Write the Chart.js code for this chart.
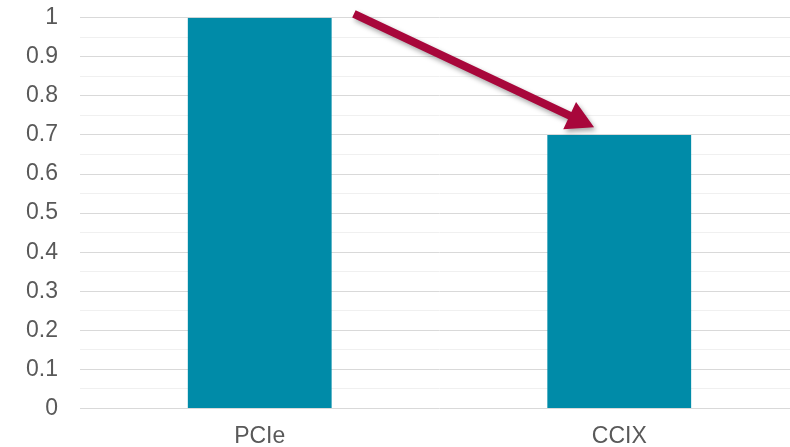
<!DOCTYPE html>
<html>
<head>
<meta charset="utf-8">
<script src="https://cdn.jsdelivr.net/npm/chart.js@4.4.1/dist/chart.umd.min.js"></script>
<style>
  html, body { margin: 0; padding: 0; background: #ffffff; overflow: hidden; }
  #wrap { width: 800px; height: 465px; position: absolute; left: 0; top: -18px; }
</style>
</head>
<body>
<div id="wrap"><canvas id="c"></canvas></div>
<script>
// Relative throughput by interconnect
const categories = ['PCIe', 'CCIX'];
const values = [1, 0.7];
// Labels for the major (0.1) ticks; minor lines sit half-way between them
const yTickLabels = ['0', '0.1', '0.2', '0.3', '0.4', '0.5', '0.6', '0.7', '0.8', '0.9', '1'];
// Trend arrow, in data units: [category position, value]
const arrowFrom = [0.262, 1.01];
const arrowTo = [0.93, 0.72];

const textColor = '#595959';
const barColor = '#008BA8';
const arrowColor = '#A8073B';

const arrowPlugin = {
  id: 'trendArrow',
  afterDatasetsDraw(chart) {
    const { ctx, scales: { x, y } } = chart;
    const x0 = x.getPixelForValue(arrowFrom[0]);
    const y0 = y.getPixelForValue(arrowFrom[1]);
    const x1 = x.getPixelForValue(arrowTo[0]);
    const y1 = y.getPixelForValue(arrowTo[1]);
    const dx = x1 - x0, dy = y1 - y0;
    const len = Math.hypot(dx, dy);
    const ux = dx / len, uy = dy / len;
    const px = -uy, py = ux;
    const headLen = 27, headHalf = 15, shaft = 4;
    const bx = x1 - ux * headLen, by = y1 - uy * headLen;
    ctx.save();
    ctx.shadowColor = 'rgba(0,0,0,0.35)';
    ctx.shadowBlur = 5;
    ctx.shadowOffsetX = 2;
    ctx.shadowOffsetY = 3;
    ctx.fillStyle = arrowColor;
    ctx.beginPath();
    ctx.moveTo(x0 + px * shaft, y0 + py * shaft);
    ctx.lineTo(bx + px * shaft, by + py * shaft);
    ctx.lineTo(bx + px * headHalf, by + py * headHalf);
    ctx.lineTo(x1, y1);
    ctx.lineTo(bx - px * headHalf, by - py * headHalf);
    ctx.lineTo(bx - px * shaft, by - py * shaft);
    ctx.lineTo(x0 - px * shaft, y0 - py * shaft);
    ctx.closePath();
    ctx.fill();
    ctx.restore();
  }
};

new Chart(document.getElementById('c'), {
  type: 'bar',
  data: {
    labels: categories,
    datasets: [{
      data: values,
      backgroundColor: barColor,
      borderWidth: 0,
      barPercentage: 0.4,
      categoryPercentage: 1
    }]
  },
  options: {
    responsive: true,
    maintainAspectRatio: false,
    animation: false,
    events: [],
    layout: { padding: { top: 0, left: 4, right: 1, bottom: -9 } },
    plugins: { legend: { display: false }, tooltip: { enabled: false } },
    scales: {
      x: {
        grid: { display: false },
        border: { display: false },
        ticks: {
          color: textColor,
          padding: 6,
          font: { family: '"Liberation Sans", Arial, sans-serif', size: 23 }
        }
      },
      y: {
        min: 0,
        max: 1,
        border: { display: false },
        grid: {
          drawTicks: false,
          lineWidth: 1,
          color: (c) => (c.index % 2 === 0 ? '#d9d9d9' : '#f0f0f0')
        },
        ticks: {
          stepSize: 0.05,
          autoSkip: false,
          color: textColor,
          padding: 22,
          font: { family: '"Liberation Sans", Arial, sans-serif', size: 23 },
          callback: (v, i) => (i % 2 === 0 ? yTickLabels[i / 2] : '')
        }
      }
    }
  },
  plugins: [arrowPlugin]
});
</script>
</body>
</html>
